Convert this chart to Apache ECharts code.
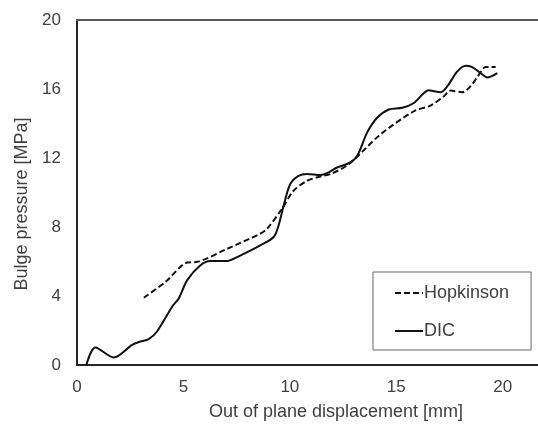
<!DOCTYPE html>
<html>
<head>
<meta charset="utf-8">
<script src="https://cdn.jsdelivr.net/npm/echarts@6/dist/echarts.min.js"></script>
<style>
  html, body { margin: 0; padding: 0; background: #fff; }
  #chart { width: 538px; height: 426px; }
</style>
</head>
<body>
<div id="chart"></div>
<script>
// values
const hopX = [3.14, 4.16, 5.18, 5.65, 7.06, 8.61, 8.93, 9.63, 10.18, 10.81, 11.44, 11.91, 12.77, 14.26, 15.83, 16.61, 17.24, 17.55, 18.1, 18.49, 18.81, 19.2, 19.67];
const hopY = [3.90, 4.82, 5.94, 5.98, 6.74, 7.61, 7.90, 9.05, 10.11, 10.68, 10.93, 11.07, 11.64, 13.37, 14.71, 15.04, 15.58, 15.91, 15.81, 16.16, 16.69, 17.27, 17.27];

const dicX = [0.44, 0.86, 1.73, 2.59, 2.98, 3.37, 3.76, 4.47, 4.78, 5.18, 5.8, 6.27, 7.06, 7.6, 8.61, 9.24, 9.47, 9.71, 10.02, 10.41, 10.81, 11.44, 11.75, 12.22, 12.77, 13.16, 13.63, 14.1, 14.65, 15.28, 15.83, 16.53, 16.77, 17.08, 17.4, 17.87, 18.26, 18.57, 18.96, 19.28, 19.75];
const dicY = [0, 1.02, 0.44, 1.17, 1.36, 1.5, 1.94, 3.38, 3.86, 4.92, 5.78, 6.03, 6.03, 6.3, 6.93, 7.42, 8.09, 9.24, 10.49, 10.97, 11.07, 11.01, 11.12, 11.45, 11.7, 12.12, 13.47, 14.33, 14.81, 14.91, 15.19, 15.93, 15.87, 15.81, 16.16, 17.02, 17.35, 17.27, 16.92, 16.67, 16.92];

const xTicks = [0, 5, 10, 15, 20];
const yTicks = [0, 4, 8, 12, 16, 20];

const textColor = '#404040';
const font = 'Liberation Sans, Arial, sans-serif';

const pairs = (xs, ys) => xs.map((x, i) => [x, ys[i]]);

const chart = echarts.init(document.getElementById('chart'), null, { renderer: 'canvas' });
chart.setOption({
  animation: false,
  backgroundColor: '#fff',
  textStyle: { fontFamily: font, color: textColor },
  grid: { left: 77, right: 0, top: 20, bottom: 59 },
  legend: {
    orient: 'vertical',
    left: 373,
    top: 272,
    padding: [12, 22, 10, 21],
    itemWidth: 28,
    itemHeight: 14,
    itemGap: 20,
    borderColor: '#666',
    borderWidth: 1,
    itemStyle: { opacity: 0 },
    textStyle: { fontSize: 18, color: textColor, fontFamily: font, padding: [0, 0, 0, -4] },
    data: ['Hopkinson', 'DIC']
  },
  xAxis: [{
    type: 'value',
    min: 0,
    max: 21.66,
    interval: 5,
    name: 'Out of plane displacement [mm]',
    nameLocation: 'middle',
    nameGap: 38,
    nameTextStyle: { fontSize: 18, color: textColor, fontFamily: font, padding: [0, 0, 0, 57] },
    axisLine: { lineStyle: { color: '#262626', width: 2 } },
    axisTick: { show: false },
    splitLine: { show: false },
    axisLabel: {
      fontSize: 17, color: textColor, margin: 14, showMaxLabel: false,
      formatter: v => xTicks.includes(v) ? String(v) : ''
    }
  }, {
    type: 'value',
    position: 'top',
    min: 0,
    max: 21.66,
    axisLine: { show: true, lineStyle: { color: '#595959', width: 2 } },
    axisTick: { show: false },
    axisLabel: { show: false },
    splitLine: { show: false }
  }],
  yAxis: {
    type: 'value',
    min: 0,
    max: 20,
    interval: 4,
    name: 'Bulge pressure [MPa]',
    nameLocation: 'middle',
    nameGap: 43,
    nameTextStyle: { fontSize: 18, color: textColor, fontFamily: font, padding: [0, 23, 0, 0] },
    axisLine: { show: true, lineStyle: { color: '#262626', width: 2 } },
    axisTick: { show: false },
    splitLine: { show: false },
    axisLabel: {
      fontSize: 17, color: textColor, margin: 16,
      formatter: v => yTicks.includes(v) ? String(v) : ''
    }
  },
  series: [{
    name: 'Hopkinson',
    type: 'line',
    data: pairs(hopX, hopY),
    symbol: 'none',
    smooth: 0.3,
    lineStyle: { color: '#111', width: 2, type: [6, 3] },
    itemStyle: { color: '#111' }
  }, {
    name: 'DIC',
    type: 'line',
    data: pairs(dicX, dicY),
    symbol: 'none',
    smooth: 0.3,
    lineStyle: { color: '#111', width: 2 },
    itemStyle: { color: '#111' }
  }]
});
</script>
</body>
</html>
